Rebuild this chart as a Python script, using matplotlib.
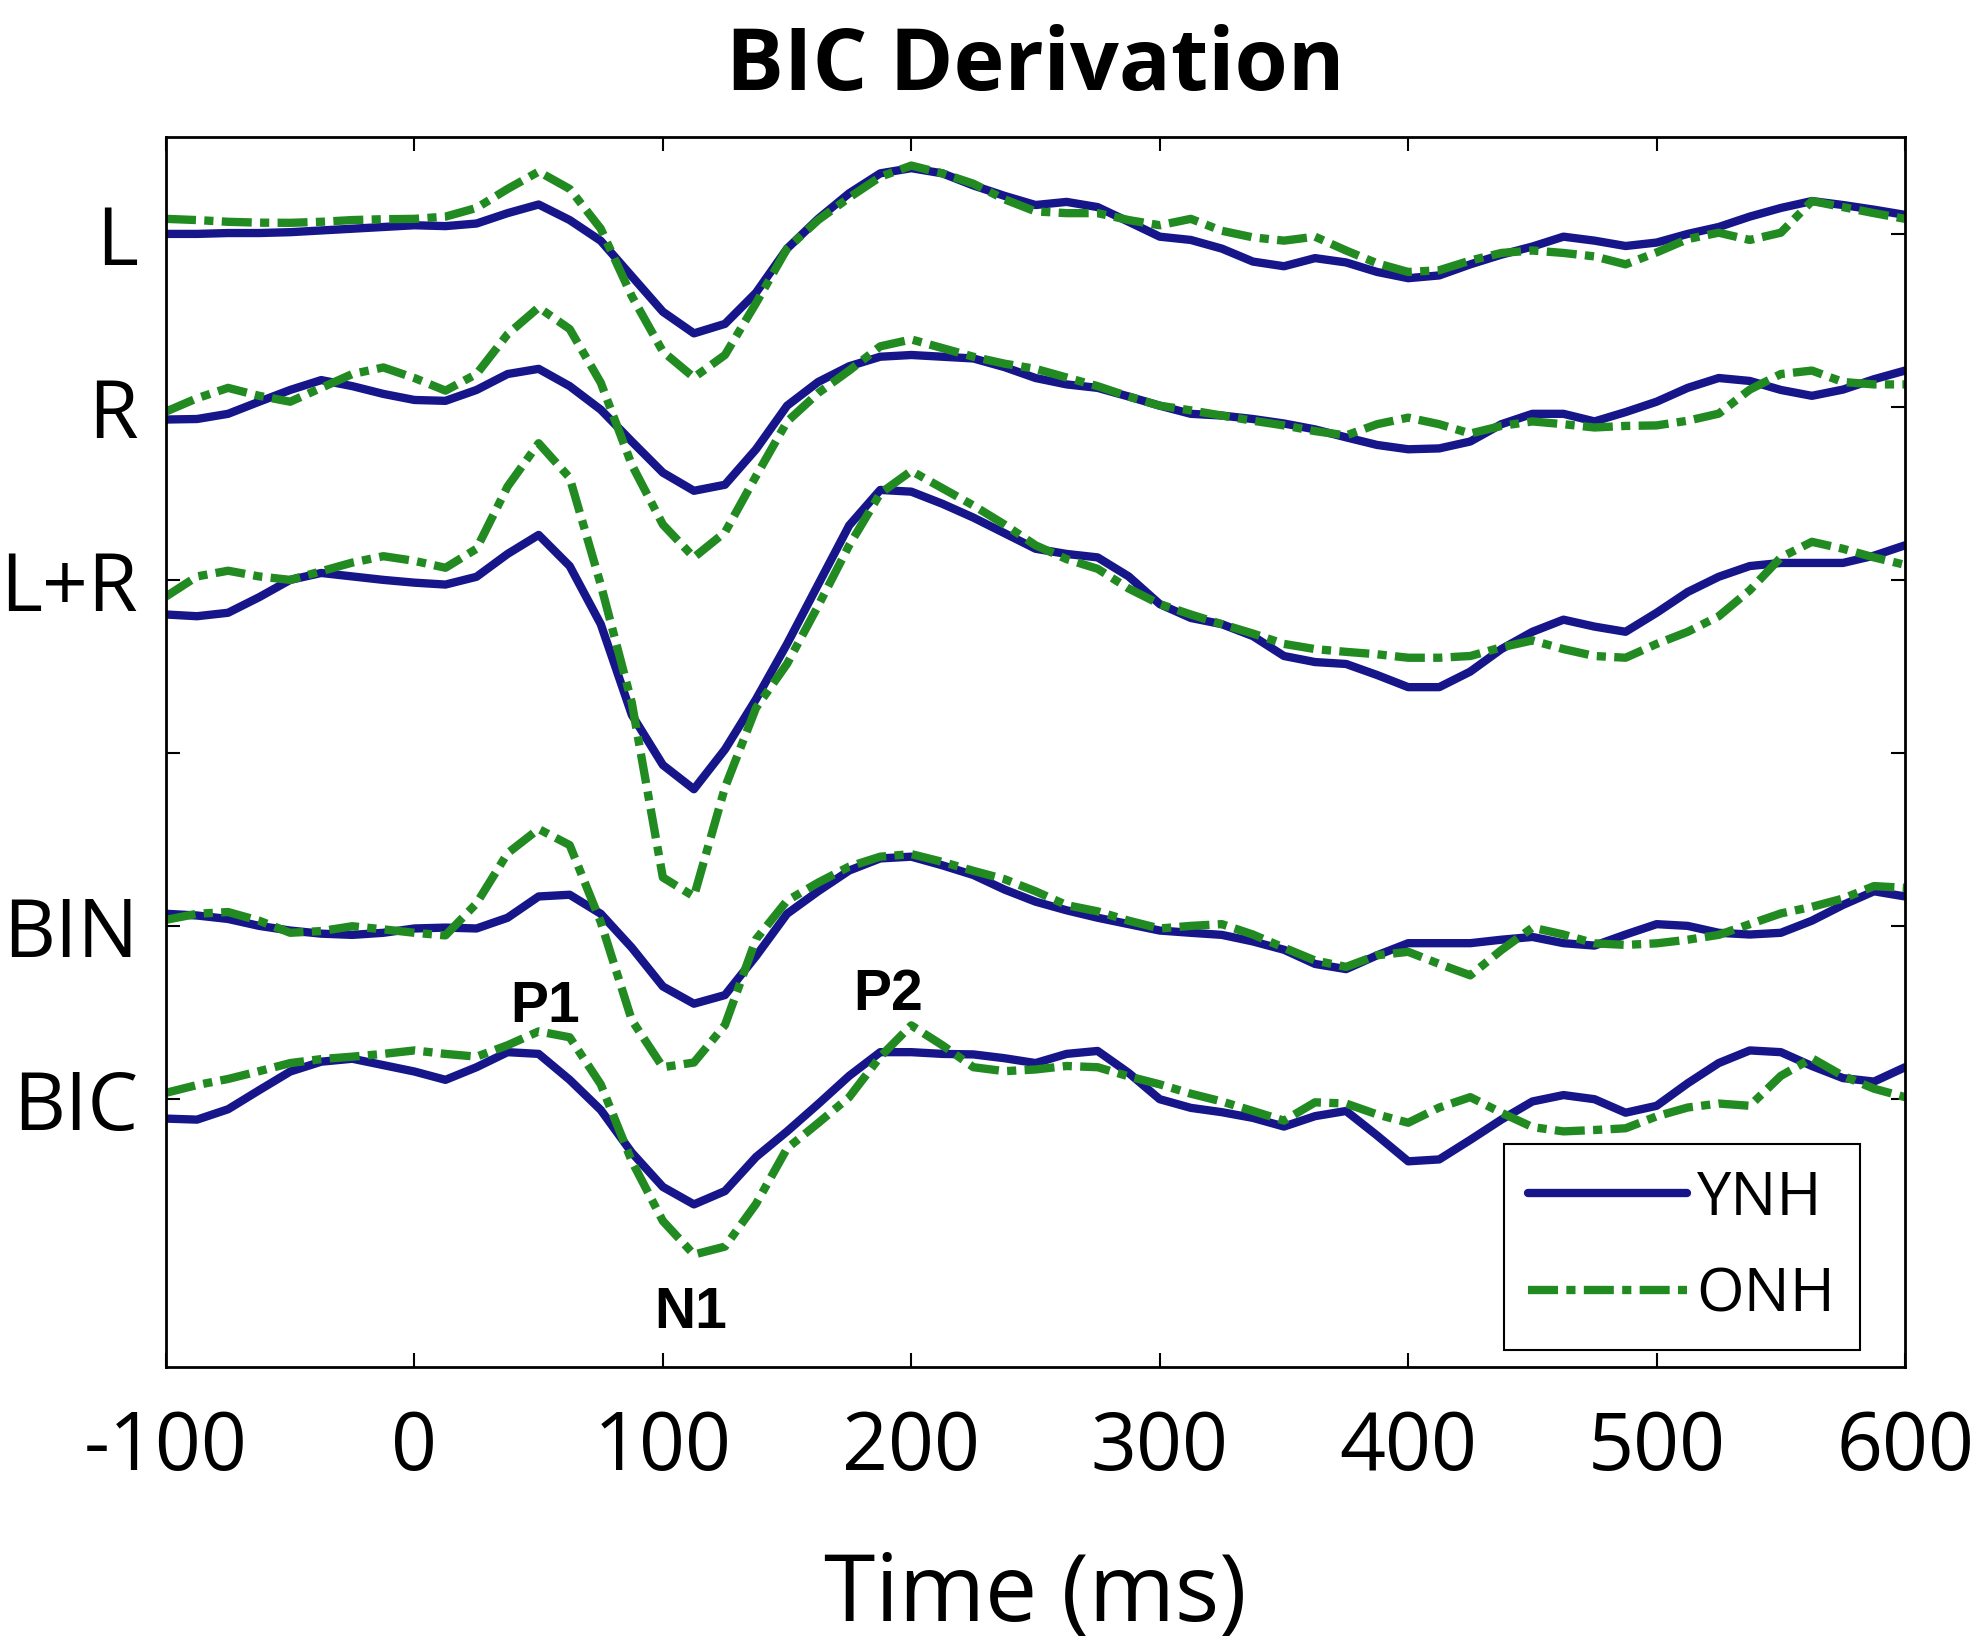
import numpy as np
import matplotlib.pyplot as plt

plt.rcParams['axes.unicode_minus'] = False

# time axis (ms), one common grid for every trace
time_ms = [-100, -87.5, -75, -62.5, -50, -37.5, -25, -12.5, 0, 12.5, 25, 37.5, 50, 62.5, 75, 87.5,
           100, 112.5, 125, 137.5, 150, 162.5, 175, 187.5, 200, 212.5, 225, 237.5, 250, 262.5,
           275, 287.5, 300, 312.5, 325, 337.5, 350, 362.5, 375, 387.5, 400, 412.5, 425, 437.5,
           450, 462.5, 475, 487.5, 500, 512.5, 525, 537.5, 550, 562.5, 575, 587.5, 600]

# waveforms (amplitude in units of one trace spacing)
l_ynh = [0.0, 0.0, 0.005, 0.005, 0.01, 0.02, 0.03, 0.04, 0.05, 0.045, 0.06, 0.12, 0.17, 0.08, -0.04, -0.245,
         -0.45, -0.575, -0.52, -0.34, -0.085, 0.087, 0.235, 0.35, 0.38, 0.35, 0.28, 0.22, 0.167, 0.185,
         0.155, 0.07, -0.016, -0.035, -0.085, -0.16, -0.187, -0.14, -0.165, -0.22, -0.256, -0.24, -0.176, -0.12,
         -0.073, -0.016, -0.039, -0.07, -0.05, 0.0, 0.04, 0.1, 0.15, 0.19, 0.167, 0.14, 0.11]
l_onh = [0.087, 0.08, 0.07, 0.065, 0.064, 0.07, 0.08, 0.085, 0.087, 0.1, 0.15, 0.26, 0.36, 0.26, 0.03, -0.36,
         -0.68, -0.83, -0.70, -0.40, -0.085, 0.08, 0.21, 0.33, 0.395, 0.35, 0.29, 0.2, 0.13, 0.12,
         0.12, 0.08, 0.05, 0.087, 0.018, -0.02, -0.039, -0.016, -0.096, -0.17, -0.22, -0.21, -0.154, -0.11,
         -0.096, -0.11, -0.13, -0.176, -0.107, -0.03, 0.007, -0.035, 0.007, 0.19, 0.155, 0.12, 0.087]

r_ynh = [-0.073, -0.07, -0.04, 0.03, 0.098, 0.155, 0.12, 0.075, 0.04, 0.035, 0.098, 0.19, 0.22, 0.12, -0.016, -0.2,
         -0.38, -0.485, -0.45, -0.245, 0.007, 0.144, 0.235, 0.29, 0.3, 0.29, 0.28, 0.23, 0.167, 0.13,
         0.11, 0.06, 0.007, -0.04, -0.05, -0.07, -0.096, -0.13, -0.176, -0.22, -0.245, -0.24, -0.2, -0.1,
         -0.04, -0.04, -0.084, -0.03, 0.03, 0.11, 0.167, 0.15, 0.098, 0.064, 0.1, 0.16, 0.21]
r_onh = [-0.027, 0.05, 0.11, 0.064, 0.03, 0.11, 0.19, 0.228, 0.167, 0.094, 0.19, 0.42, 0.575, 0.45, 0.14, -0.335,
         -0.68, -0.87, -0.725, -0.4, -0.085, 0.08, 0.21, 0.35, 0.39, 0.34, 0.29, 0.25, 0.22, 0.17,
         0.12, 0.06, 0.007, -0.02, -0.05, -0.08, -0.107, -0.14, -0.165, -0.1, -0.062, -0.1, -0.154, -0.11,
         -0.084, -0.1, -0.119, -0.11, -0.107, -0.08, -0.039, 0.1, 0.19, 0.21, 0.144, 0.13, 0.13]

lr_ynh = [-0.2, -0.21, -0.19, -0.1, 0.0, 0.04, 0.02, 0.0, -0.016, -0.027, 0.018, 0.15, 0.26, 0.08, -0.256, -0.78,
          -1.07, -1.21, -0.98, -0.69, -0.37, -0.027, 0.315, 0.52, 0.51, 0.44, 0.36, 0.27, 0.18, 0.15,
          0.13, 0.02, -0.14, -0.22, -0.256, -0.325, -0.44, -0.475, -0.486, -0.55, -0.62, -0.62, -0.53, -0.4,
          -0.3, -0.23, -0.27, -0.3, -0.19, -0.07, 0.018, 0.08, 0.098, 0.098, 0.098, 0.14, 0.2]
lr_onh = [-0.096, 0.02, 0.053, 0.02, 0.0, 0.05, 0.1, 0.137, 0.11, 0.07, 0.18, 0.54, 0.79, 0.59, -0.027, -0.71,
          -1.72, -1.83, -1.2, -0.74, -0.485, -0.15, 0.2, 0.5, 0.63, 0.53, 0.43, 0.32, 0.2, 0.12,
          0.064, -0.05, -0.14, -0.2, -0.256, -0.31, -0.37, -0.4, -0.416, -0.43, -0.45, -0.45, -0.44, -0.39,
          -0.35, -0.4, -0.44, -0.45, -0.37, -0.3, -0.21, -0.06, 0.13, 0.22, 0.18, 0.13, 0.087]

bin_ynh = [0.07, 0.06, 0.04, 0.0, -0.027, -0.045, -0.052, -0.04, -0.015, -0.01, -0.015, 0.047, 0.17, 0.18, 0.07, -0.126,
           -0.35, -0.45, -0.4, -0.175, 0.07, 0.2, 0.32, 0.39, 0.4, 0.35, 0.294, 0.21, 0.14, 0.09,
           0.047, 0.01, -0.027, -0.04, -0.052, -0.09, -0.138, -0.22, -0.25, -0.17, -0.1, -0.1, -0.1, -0.08,
           -0.064, -0.1, -0.114, -0.05, 0.01, 0.0, -0.04, -0.05, -0.04, 0.03, 0.121, 0.2, 0.17]
bin_onh = [0.035, 0.07, 0.08, 0.03, -0.04, -0.03, -0.002, -0.02, -0.04, -0.055, 0.13, 0.42, 0.56, 0.467, 0.022, -0.545,
           -0.817, -0.79, -0.573, -0.077, 0.146, 0.25, 0.343, 0.4, 0.415, 0.37, 0.318, 0.27, 0.2, 0.12,
           0.084, 0.03, -0.015, 0.0, 0.01, -0.05, -0.126, -0.2, -0.237, -0.17, -0.15, -0.22, -0.286, -0.14,
           -0.01, -0.05, -0.101, -0.11, -0.101, -0.08, -0.052, 0.01, 0.072, 0.11, 0.158, 0.23, 0.22]

bic_ynh = [-0.114, -0.12, -0.06, 0.05, 0.158, 0.215, 0.232, 0.195, 0.158, 0.11, 0.183, 0.27, 0.26, 0.11, -0.064, -0.311,
           -0.509, -0.61, -0.533, -0.336, -0.188, -0.03, 0.133, 0.27, 0.27, 0.26, 0.257, 0.235, 0.207, 0.26,
           0.277, 0.15, -0.002, -0.052, -0.077, -0.11, -0.16, -0.1, -0.07, -0.212, -0.361, -0.35, -0.237, -0.12,
           -0.015, 0.022, -0.002, -0.08, -0.04, 0.09, 0.207, 0.28, 0.27, 0.19, 0.12, 0.1, 0.183]
bic_onh = [0.035, 0.08, 0.115, 0.16, 0.207, 0.23, 0.244, 0.26, 0.28, 0.26, 0.244, 0.31, 0.39, 0.356, 0.084, -0.36,
           -0.706, -0.9, -0.854, -0.607, -0.286, -0.14, 0.01, 0.244, 0.425, 0.31, 0.183, 0.16, 0.17, 0.19,
           0.183, 0.13, 0.084, 0.03, -0.015, -0.07, -0.126, -0.02, -0.027, -0.09, -0.138, -0.05, 0.01, -0.08,
           -0.163, -0.188, -0.18, -0.17, -0.101, -0.05, -0.027, -0.04, 0.133, 0.235, 0.133, 0.059, 0.01]

traces = ["L", "R", "L+R", "BIN", "BIC"]
trace_offsets = [5, 4, 3, 1, 0]
ynh_data = [l_ynh, r_ynh, lr_ynh, bin_ynh, bic_ynh]
onh_data = [l_onh, r_onh, lr_onh, bin_onh, bic_onh]

ytick_pos = [0, 1, 2, 3, 4, 5]
ytick_labels = ["BIC", "BIN", "", "L+R", "R", "L"]
xtick_pos = [-100, 0, 100, 200, 300, 400, 500, 600]

peak_names = ["P1", "N1", "P2"]
peak_x = [52.6, 111, 190.6]
peak_y = [0.53, -1.24, 0.6]

blue = "#16168a"
green = "#218a21"

fig = plt.figure(figsize=(19.83, 16.47), dpi=100)
ax = fig.add_axes([0.0837, 0.17, 0.877, 0.7468])

t = np.array(time_ms)
for i, name in enumerate(traces):
    lab_y = "YNH" if i == 0 else None
    lab_o = "ONH" if i == 0 else None
    ax.plot(t, np.array(ynh_data[i]) + trace_offsets[i], color=blue, lw=6, label=lab_y,
            solid_capstyle="round", solid_joinstyle="round")
    ax.plot(t, np.array(onh_data[i]) + trace_offsets[i], color=green, lw=6, label=lab_o,
            dashes=(3.6, 1.0, 1.1, 1.0), dash_joinstyle="round")

for name, px, py in zip(peak_names, peak_x, peak_y):
    ax.text(px, py, name, ha="center", va="center", fontsize=41, fontweight="bold",
            family="Liberation Sans")

ax.set_xlim(-100, 600)
ax.set_ylim(-1.55, 5.56)
ax.set_xticks(xtick_pos)
ax.set_yticks(ytick_pos)
ax.set_yticklabels(ytick_labels)
ax.tick_params(direction="in", length=10, width=1.5, top=True, right=True,
               labelsize=58)
ax.tick_params(axis="x", pad=30)
ax.tick_params(axis="y", pad=20)
for lab in ax.get_xticklabels() + ax.get_yticklabels():
    lab.set_family("Open Sans")
for sp in ax.spines.values():
    sp.set_linewidth(2)

ax.set_xlabel("Time (ms)", fontsize=67, family="Open Sans", labelpad=44)
ax.set_title("BIC Derivation", fontsize=62, fontweight="bold", family="Open Sans", pad=34)

leg = ax.legend(loc="lower right", bbox_to_anchor=(0.974, 0.014), borderaxespad=0,
                fancybox=False, framealpha=1, edgecolor="black",
                prop={"family": "Open Sans", "size": 44},
                handlelength=2.6, handletextpad=0.15, borderpad=0.4, labelspacing=0.6)
leg.get_frame().set_linewidth(1.5)

fig.savefig("out.png", dpi=100)
